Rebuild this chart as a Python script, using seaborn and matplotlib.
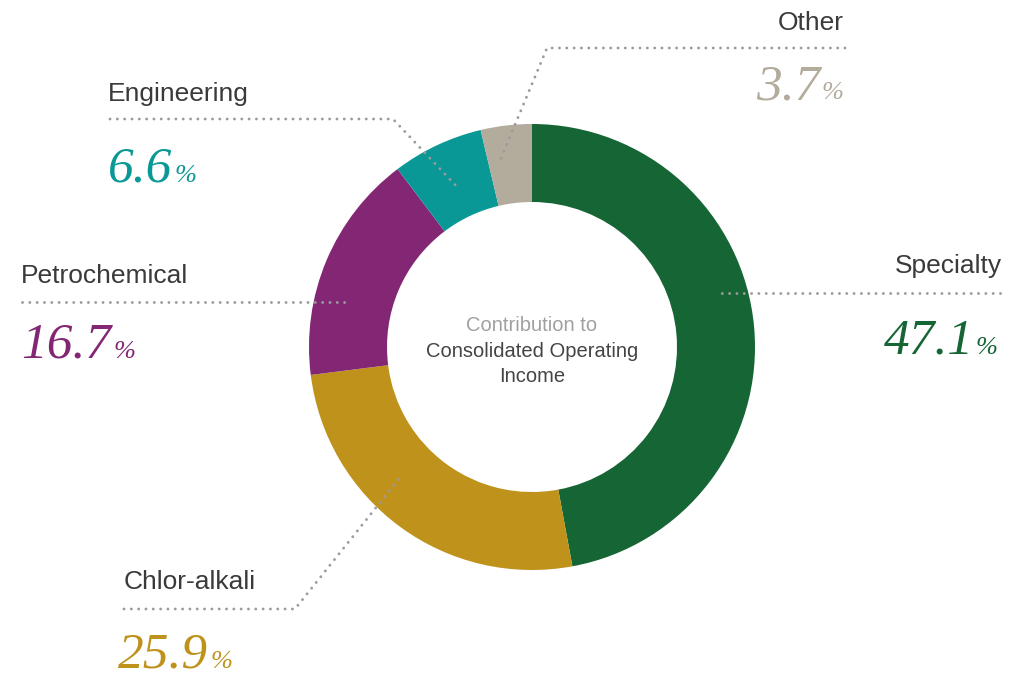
import matplotlib
matplotlib.use("Agg")
import matplotlib.pyplot as plt
import seaborn as sns

# data
segments = ["Specialty", "Chlor-alkali", "Petrochemical", "Engineering", "Other"]
shares = [47.1, 25.9, 16.7, 6.6, 3.7]
value_labels = ["47.1", "25.9", "16.7", "6.6", "3.7"]
colors = ["#156535", "#BF921B", "#832674", "#0A9896", "#B3AB9C"]
center_lines = ["Contribution to", "Consolidated Operating", "Income"]

sns.set_theme(style="white")
plt.rcParams["font.family"] = ["Liberation Sans", "DejaVu Sans"]

W, H = 1019, 680
fig = plt.figure(figsize=(W / 100, H / 100), dpi=100)
ax = fig.add_axes([0, 0, 1, 1])

# donut (y axis is flipped later, so counterclock here reads clockwise on screen)
cx, cy, r_out, r_in = 532, 347, 223, 145
ax.pie(shares, colors=colors, startangle=-90, counterclock=True,
       center=(cx, cy), radius=r_out,
       wedgeprops=dict(width=r_out - r_in, linewidth=0))
ax.set_xlim(0, W)
ax.set_ylim(H, 0)
ax.axis("off")

# center caption
ax.text(cx, 331, center_lines[0], ha="center", va="baseline", fontsize=14.5, color="#a0a0a0")
ax.text(cx, 357, center_lines[1], ha="center", va="baseline", fontsize=14.5, color="#444444")
ax.text(cx, 382, center_lines[2], ha="center", va="baseline", fontsize=14.5, color="#444444")

# label layout: name position, value position, alignment, leader path
layout = {
    "Specialty":     dict(name=(1002, 273), value=(998, 354), ha="right",
                          path=[(1000, 293), (715, 293)]),
    "Chlor-alkali":  dict(name=(124, 589), value=(118, 668), ha="left",
                          path=[(124, 609), (295, 609), (402, 475)]),
    "Petrochemical": dict(name=(21, 283), value=(21, 358), ha="left",
                          path=[(22, 302), (350, 302)]),
    "Engineering":   dict(name=(108, 101), value=(108, 182), ha="left",
                          path=[(110, 119), (393, 119), (458, 188)]),
    "Other":         dict(name=(844, 30), value=(844, 99), ha="right",
                          path=[(845, 48), (547, 48), (499, 163)]),
}

fig.canvas.draw()
renderer = fig.canvas.get_renderer()
inv = ax.transData.inverted()

def x_edges(t):
    bb = t.get_window_extent(renderer)
    (x0, _), (x1, _) = inv.transform([(bb.x0, bb.y0), (bb.x1, bb.y1)])
    return x0, x1

num_font = dict(family=["Liberation Serif", "DejaVu Serif"], style="italic")
for seg, val, col in zip(segments, value_labels, colors):
    lay = layout[seg]
    ax.text(*lay["name"], seg, ha=lay["ha"], va="baseline", fontsize=19, color="#3a3a3a")
    xs, ys = zip(*lay["path"])
    ax.plot(xs, ys, color="#9b9b9b", lw=2.1, linestyle=(0, (0.01, 2.5)),
            dash_capstyle="round", zorder=5)
    vx, vy = lay["value"]
    if lay["ha"] == "left":
        num = ax.text(vx, vy, val, ha="left", va="baseline", fontsize=37, color=col, **num_font)
        _, x1 = x_edges(num)
        ax.text(x1 + 2, vy, "%", ha="left", va="baseline", fontsize=19, color=col, **num_font)
    else:
        pct = ax.text(vx, vy, "%", ha="right", va="baseline", fontsize=19, color=col, **num_font)
        x0, _ = x_edges(pct)
        ax.text(x0 - 2, vy, val, ha="right", va="baseline", fontsize=37, color=col, **num_font)

fig.savefig("out.png", dpi=100)
